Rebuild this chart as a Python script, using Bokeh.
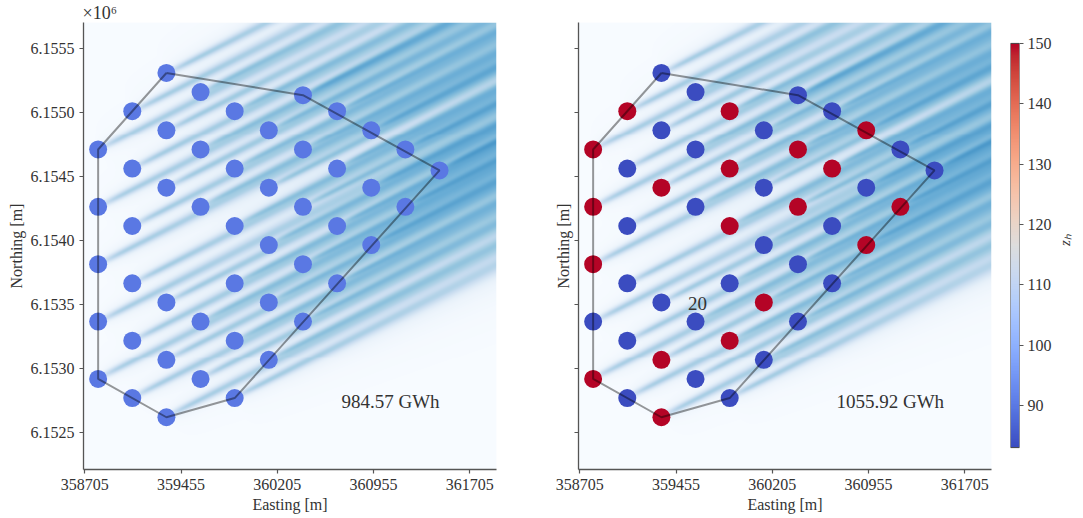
import numpy as np
from bokeh.plotting import figure
from bokeh.models import FixedTicker, CustomJSTickFormatter, Label, LinearColorMapper, ColumnDataSource, Title
from bokeh.layouts import row
from bokeh.embed import file_html
from bokeh.resources import INLINE
from bokeh.palettes import Blues256

# ---------------- data ----------------
turbine_x = [358809, 358809, 358809, 358809, 358809,
             359075, 359075, 359075, 359075, 359075, 359075,
             359341, 359341, 359341, 359341, 359341, 359341,
             359607, 359607, 359607, 359607, 359607,
             359873, 359873, 359873, 359873, 359873, 359873,
             360139, 360139, 360139, 360139, 360139,
             360405, 360405, 360405, 360405, 360405,
             360671, 360671, 360671, 360671,
             360937, 360937, 360937,
             361203, 361203,
             361469]
turbine_y = [6154712, 6154263, 6153814, 6153365, 6152916,
             6155012, 6154563, 6154113, 6153664, 6153215, 6152766,
             6155311, 6154862, 6154413, 6153515, 6153066, 6152616,
             6155161, 6154712, 6154263, 6153365, 6152916,
             6155012, 6154563, 6154113, 6153664, 6153215, 6152766,
             6154862, 6154413, 6153964, 6153515, 6153066,
             6155137, 6154712, 6154263, 6153814, 6153365,
             6155012, 6154563, 6154113, 6153664,
             6154862, 6154413, 6153964,
             6154712, 6154263,
             6154548]
hub_height_left = [90] * 48
hub_height_right = [150, 150, 150, 83, 150,
                    150, 83, 83, 83, 83, 83,
                    83, 83, 150, 83, 150, 150,
                    83, 83, 83, 83, 83,
                    150, 150, 150, 83, 150, 83,
                    83, 83, 83, 150, 83,
                    83, 150, 150, 83, 83,
                    83, 150, 83, 83,
                    150, 83, 150,
                    83, 150,
                    83]
boundary_x = [359341, 360405, 361469, 359873, 359341, 358809, 358809, 359341]
boundary_y = [6155311, 6155137, 6154548, 6152766, 6152616, 6152916, 6154712, 6155311]
aep_labels = ["984.57 GWh", "1055.92 GWh"]
aep_x = 360705
aep_y = 6152739
note_text = "20"
note_x, note_y = 359622, 6153503
x_ticks = [358705, 359455, 360205, 360955, 361705]
y_ticks = [6152500, 6153000, 6153500, 6154000, 6154500, 6155000, 6155500]
cbar_ticks = [90, 100, 110, 120, 130, 140, 150]
z_min, z_max = 83, 150
wind_angle_deg = 27

X0, X1 = 358695, 361913
Y0, Y1 = 6152207, 6155706

FONT = "Liberation Serif"
TXT = "#333333"
AX = "#555555"

# coolwarm palette
cw_anchor = ["#3b4cc0", "#445acc", "#4d68d7", "#5775e1", "#6282ea", "#6c8ef1", "#779af7", "#82a5fb",
             "#8db0fe", "#98b9ff", "#a3c2ff", "#aec9fd", "#b8d0f9", "#c2d5f4", "#ccd9ee", "#d5dbe6",
             "#dddddd", "#e5d8d1", "#ecd3c5", "#f1ccb8", "#f5c4ac", "#f7bb9f", "#f7b193", "#f7a686",
             "#f49a7b", "#f18d6f", "#ec7f63", "#e57058", "#de604d", "#d55042", "#cb3e38", "#c0282f",
             "#b40426"]
rgb = np.array([[int(h[i:i + 2], 16) for i in (1, 3, 5)] for h in cw_anchor], dtype=float)
t_a = np.linspace(0, 1, len(cw_anchor))
t_n = np.linspace(0, 1, 256)
coolwarm = ["#%02x%02x%02x" % tuple(int(round(np.interp(t, t_a, rgb[:, k]))) for k in range(3)) for t in t_n]


def wake_field(tx, ty):
    xs = np.linspace(X0, X1, 413)
    ys = np.linspace(Y0, Y1, 449)
    XX, YY = np.meshgrid(xs, ys)
    S2 = np.zeros_like(XX)
    W = np.zeros_like(XX)
    th = np.deg2rad(wind_angle_deg)
    c, s = np.cos(th), np.sin(th)
    for x, y in zip(tx, ty):
        dx = XX - x
        dy = YY - y
        a = dx * c + dy * s
        r = -dx * s + dy * c
        ap = np.clip(a, 0, None)
        sig = 17 + 0.012 * ap
        onset = np.where(a > 0, 1 - np.exp(-ap / 70.0), 0.0)
        amp = onset / (1 + ap / 6000.0)
        core = amp * (0.30 * np.exp(-0.5 * (r / sig) ** 2) + 0.05 * np.exp(-0.5 * (r / (2.5 * sig)) ** 2))
        S2 += core ** 2
        W += amp * np.exp(-0.5 * (r / (6 * sig + 60)) ** 2)
    return np.sqrt(S2) + 0.010 * W


field = wake_field(turbine_x, turbine_y)
blue_mapper = LinearColorMapper(palette=list(Blues256[::-1]), low=0, high=1.0)


def style_axes(p, show_ylabels):
    p.xaxis.ticker = FixedTicker(ticks=x_ticks)
    p.yaxis.ticker = FixedTicker(ticks=y_ticks)
    p.xaxis.formatter = CustomJSTickFormatter(code="return tick.toFixed(0)")
    if show_ylabels:
        p.yaxis.formatter = CustomJSTickFormatter(code="return (tick/1e6).toFixed(4)")
    else:
        p.yaxis.formatter = CustomJSTickFormatter(code="return ''")
    p.xaxis.axis_label = "Easting [m]"
    p.yaxis.axis_label = "Northing [m]"
    for ax in (p.xaxis[0], p.yaxis[0]):
        ax.axis_line_color = AX
        ax.axis_line_width = 1.3
        ax.major_tick_line_color = AX
        ax.major_tick_line_width = 1.2
        ax.major_tick_out = 4
        ax.major_tick_in = 0
        ax.minor_tick_out = 0
        ax.minor_tick_in = 0
        ax.major_label_text_font = FONT
        ax.major_label_text_font_size = "16px"
        ax.major_label_text_color = TXT
        ax.axis_label_text_font = FONT
        ax.axis_label_text_font_size = "16px"
        ax.axis_label_text_font_style = "normal"
        ax.axis_label_text_color = TXT
        ax.major_label_standoff = 5
        ax.axis_label_standoff = 3
    p.xgrid.visible = False
    p.ygrid.visible = False
    p.outline_line_color = None


def panel(width, left, right, heights, aep, show_ylabels, note=False):
    p = figure(width=width, height=518, x_range=(X0, X1), y_range=(Y0, Y1),
               output_backend="svg", toolbar_location=None,
               min_border_left=left, min_border_right=right, min_border_top=20, min_border_bottom=49)
    p.image(image=[field], x=X0, y=Y0, dw=X1 - X0, dh=Y1 - Y0, color_mapper=blue_mapper)
    src = ColumnDataSource(dict(x=turbine_x, y=turbine_y, h=heights))
    cmap = LinearColorMapper(palette=coolwarm, low=z_min, high=z_max)
    p.scatter("x", "y", source=src, size=18, line_color=None,
              fill_color={"field": "h", "transform": cmap})
    p.line(boundary_x, boundary_y, line_color="black", line_alpha=0.4, line_width=2)
    p.add_layout(Label(x=aep_x, y=aep_y, text=aep, text_font=FONT, text_font_size="19px",
                       text_color=TXT, text_align="left", text_baseline="middle"))
    if note:
        p.add_layout(Label(x=note_x, y=note_y, text=note_text, text_font=FONT, text_font_size="19px",
                           text_color=TXT, text_align="center", text_baseline="middle"))
    style_axes(p, show_ylabels)
    return p


p1 = panel(526, 83, 30, hub_height_left, aep_labels[0], True)
p1.add_layout(Title(text="×10⁶", align="left", text_font=FONT, text_font_size="18px",
                    text_font_style="normal", text_color=TXT, standoff=0, offset=-1), "above")
p2 = panel(475, 52, 10, hub_height_right, aep_labels[1], False, note=True)

# colorbar figure: frame spans same height as panels; bar drawn from z_min to z_max
cb_top_px, cb_bot_px = 41, 447
px_per_unit = (cb_bot_px - cb_top_px) / (z_max - z_min)
cy0 = z_min - (469 - cb_bot_px) / px_per_unit
cy1 = z_max + (cb_top_px - 20) / px_per_unit
p3 = figure(width=82, height=518, x_range=(0, 1), y_range=(cy0, cy1),
            output_backend="svg", toolbar_location=None, x_axis_location=None,
            y_axis_location="right", min_border_left=9, min_border_right=52,
            min_border_top=20, min_border_bottom=49)
grad = np.linspace(z_min, z_max, 256).reshape(256, 1)
p3.image(image=[grad], x=0, y=z_min, dw=1, dh=z_max - z_min,
         color_mapper=LinearColorMapper(palette=coolwarm, low=z_min, high=z_max))
p3.quad(left=[0], right=[1], bottom=[z_min], top=[z_max], fill_color=None,
        line_color="#444444", line_width=1)
p3.outline_line_color = None
p3.xgrid.visible = False
p3.ygrid.visible = False
ya = p3.yaxis[0]
ya.ticker = FixedTicker(ticks=cbar_ticks)
ya.axis_line_color = None
ya.major_tick_line_color = AX
ya.major_tick_out = 4
ya.major_tick_in = 0
ya.minor_tick_out = 0
ya.minor_tick_in = 0
ya.major_label_text_font = FONT
ya.major_label_text_font_size = "16px"
ya.major_label_text_color = TXT
ya.major_label_standoff = 4
ya.axis_label = "zₕ"
ya.axis_label_text_font = FONT
ya.axis_label_text_font_size = "15px"
ya.axis_label_text_font_style = "italic"
ya.axis_label_text_color = TXT
ya.axis_label_standoff = 10
ya.axis_label_orientation = np.pi / 2

layout = row(p1, p2, p3)
open("out.html", "w").write(file_html(layout, INLINE))
